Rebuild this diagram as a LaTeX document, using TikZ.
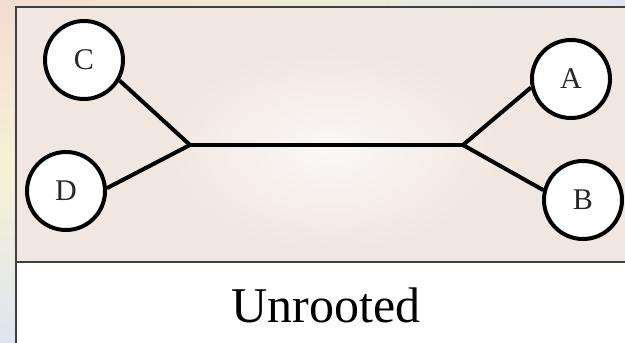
\documentclass[tikz,border=0pt]{standalone}
\usepackage{fontspec}
\setmainfont{Liberation Serif}
\usepackage{xcolor}
\usepackage{tikz}
\definecolor{cFrame}{RGB}{64,64,64}
\definecolor{cBack}{RGB}{241,231,225}
\definecolor{cPeach}{RGB}{243,221,210}
\definecolor{cBlue}{RGB}{223,229,240}
\definecolor{cYell}{RGB}{246,241,214}
\definecolor{cLime}{RGB}{238,236,214}
\definecolor{cText}{RGB}{40,40,40}

\tikzset{
  taxon/.style={circle,draw=black,line width=4pt,fill=white,inner sep=0pt,
    minimum size=78pt,text=cText,font=\fontsize{30}{32}\selectfont},
  branch/.style={line width=4pt,black}
}

\begin{document}
\begin{tikzpicture}[x=1pt,y=-1pt]
\useasboundingbox (0,0) rectangle (625,343);
\clip (0,0) rectangle (625,343);
% surrounding picture
\shade[top color=cPeach,bottom color=cBlue,middle color=cYell] (0,0) rectangle (16,343);
\shade[left color=cPeach,right color=cBlue,middle color=cLime] (0,0) rectangle (625,7);
% panel
\fill[cBack] (16,7) rectangle (630,262);
\shade[inner color=white!70!cBack,outer color=cBack] (330,150) ellipse (170 and 100);
\fill[white] (16,262) rectangle (630,350);
\draw[cFrame,line width=2pt] (16,350) -- (16,7) -- (630,7);
\draw[cFrame,line width=2pt] (16,262) -- (630,262);
% tree
\coordinate (jl) at (190,145);
\coordinate (jr) at (463,145);
\node[taxon] (C) at (84,60) {C};
\node[taxon] (D) at (66,191) {D};
\node[taxon] (A) at (571,79) {A};
\node[taxon] (B) at (583,200) {B};
\draw[branch] (C.-30) -- (jl);
\draw[branch] (D.4) -- (jl);
\draw[branch,line cap=round] (jl) -- (jr);
\draw[branch] (A.-168) -- (jr);
\draw[branch] (B.166) -- (jr);
\node[font=\fontsize{50}{60}\selectfont,text=black] (title) at (326,305) {Unrooted};
\end{tikzpicture}
\end{document}
